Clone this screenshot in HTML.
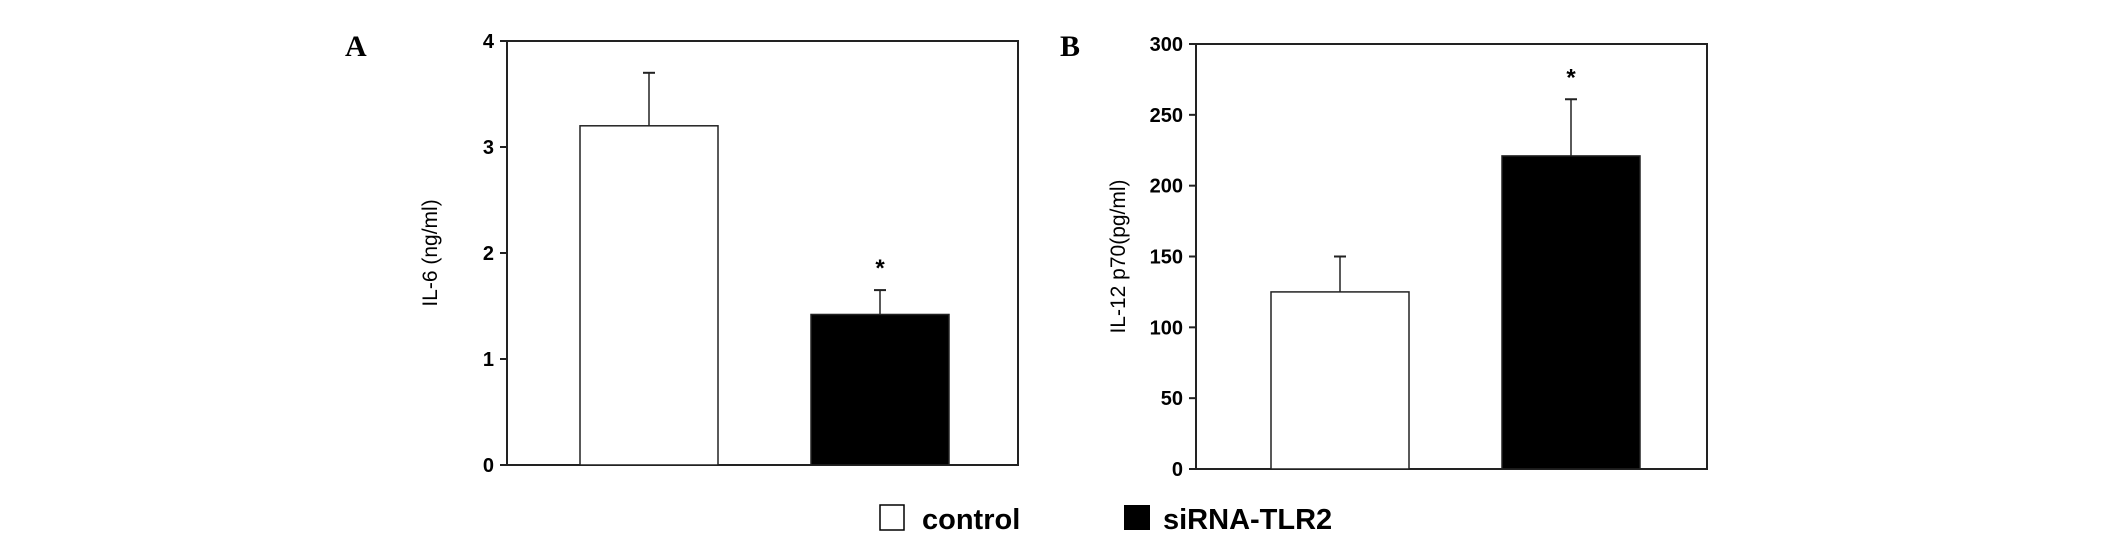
<!DOCTYPE html>
<html><head><meta charset="utf-8"><style>
body{margin:0;background:#fff;}
svg{display:block;font-family:"Liberation Sans",Arial,sans-serif;}
</style></head><body>
<svg id="chart" width="2126" height="540" viewBox="0 0 2126 540">
<text x="345" y="56" font-family="Liberation Serif,serif" font-weight="bold" font-size="30">A</text>
<text x="1060" y="56" font-family="Liberation Serif,serif" font-weight="bold" font-size="30">B</text>
<g id="legend">
<rect x="880" y="505" width="24" height="25" fill="#fff" stroke="#000" stroke-width="1.5"/>
<text x="922" y="529" font-size="29" font-weight="bold">control</text>
<rect x="1124" y="505" width="26" height="25" fill="#000"/>
<text x="1163" y="529" font-size="29" font-weight="bold">siRNA-TLR2</text>
</g>
</svg>
<script>
const categories=["control","siRNA-TLR2"];
const aValues=[3.2,1.42];
const aErrors=[0.5,0.23];
const aTicks=[0,1,2,3,4];
const bValues=[125,221];
const bErrors=[25,40];
const bTicks=[0,50,100,150,200,250,300];
const svg=document.getElementById('chart');
const NS='http://www.w3.org/2000/svg';
function mk(t,a){const e=document.createElementNS(NS,t);for(const k in a)e.setAttribute(k,a[k]);svg.appendChild(e);return e;}
function panel(p,vals,errs,ticks,title,tag){
  const ymax=ticks[ticks.length-1];
  const y=v=>p.bottom-(v/ymax)*(p.bottom-p.top);
  let e=mk('rect',{x:p.left,y:p.top,width:p.right-p.left,height:p.bottom-p.top,fill:'none',stroke:'#222','stroke-width':2});
  
  
  ticks.forEach(t=>{
    let l=mk('line',{x1:p.left-7,x2:p.left,y1:y(t),y2:y(t),stroke:'#222','stroke-width':2});
    
    
    let tx=mk('text',{x:p.left-13,y:y(t)+7,'text-anchor':'end','font-size':20,'font-weight':'bold'});
    tx.textContent=t;
    
    
  });
  vals.forEach((v,i)=>{
    const x0=p.bars[i],w=p.bw,cx=x0+w/2;
    let el=mk('line',{x1:cx,x2:cx,y1:y(v),y2:y(v+errs[i]),stroke:'#222','stroke-width':1.5});
    
    
    let cap=mk('line',{x1:cx-6,x2:cx+6,y1:y(v+errs[i]),y2:y(v+errs[i]),stroke:'#222','stroke-width':2});
    
    
    let b=mk('rect',{x:x0,y:y(v),width:w,height:y(0)-y(v),fill:i?'#000':'#fff',stroke:'#222','stroke-width':1.5});
    
    
    if(i===1){
      let s=mk('text',{x:cx,y:y(v+errs[i])-14,'text-anchor':'middle','font-size':24,'font-weight':'bold'});
      s.textContent='*';
      
      
    }
  });
  let tt=mk('text',{x:0,y:0,'text-anchor':'middle','font-size':21,transform:`translate(${p.titleX},${(p.top+p.bottom)/2}) rotate(-90)`});
  tt.textContent=title;
  
  
}
panel({left:507,right:1018,top:41,bottom:465,bars:[580,811],bw:138,titleX:437},aValues,aErrors,aTicks,'IL-6 (ng/ml)','panel-a');
panel({left:1196,right:1707,top:44,bottom:469,bars:[1271,1502],bw:138,titleX:1125},bValues,bErrors,bTicks,'IL-12 p70(pg/ml)','panel-b');
</script>
</body></html>
